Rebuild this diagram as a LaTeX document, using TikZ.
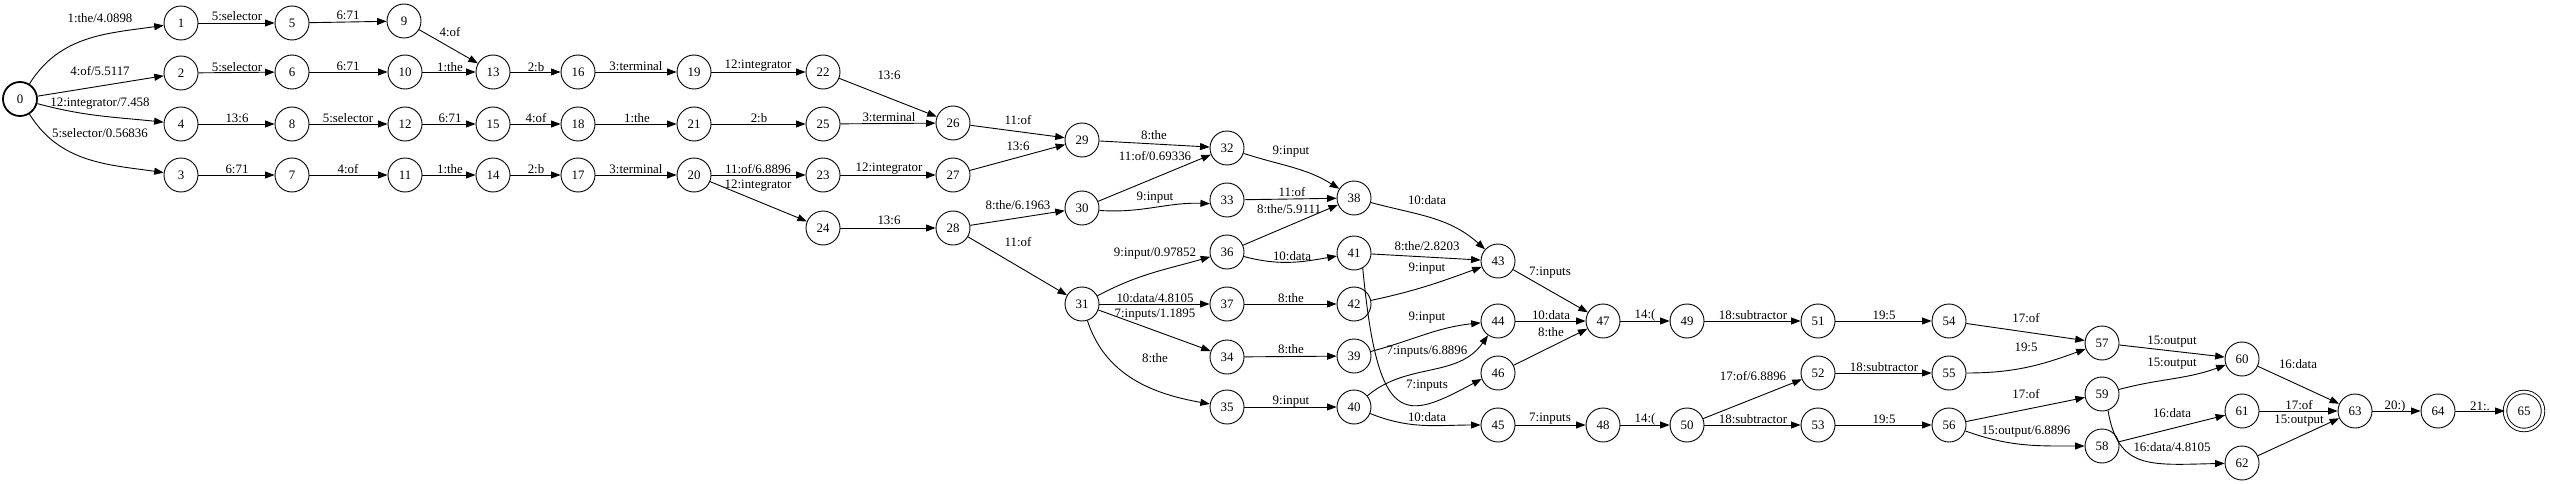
\documentclass[tikz,border=0pt]{standalone}
\usepackage{fontspec}
\setmainfont{Liberation Serif}
\usetikzlibrary{arrows.meta}

\begin{document}
\begin{tikzpicture}[x=1pt,y=-1pt,line width=0.9pt,>={Triangle[length=9.5pt,width=7pt]},
    fst/.style={draw,circle,minimum size=34pt,inner sep=0pt,font=\fontsize{12.9}{14}\selectfont},
    fststart/.style={fst,line width=1.8pt},
    fstfinal/.style={fst,double,double distance=2.6pt,minimum size=38pt},
    lbl/.style={inner sep=0pt,font=\fontsize{12.9}{14}\selectfont}]
        \useasboundingbox (0,0) rectangle (2550,484);
        \node[fststart] (s0) at (20,99) {0};
        \node[fst] (s1) at (181,23) {1};
        \node[fst] (s2) at (181,73) {2};
        \node[fst] (s4) at (181,124) {4};
        \node[fst] (s3) at (181,175) {3};
        \node[fst] (s5) at (292,23) {5};
        \node[fst] (s6) at (292,72) {6};
        \node[fst] (s8) at (292,124) {8};
        \node[fst] (s7) at (292,175) {7};
        \node[fst] (s9) at (404,21) {9};
        \node[fst] (s10) at (405,72) {10};
        \node[fst] (s12) at (405,124) {12};
        \node[fst] (s11) at (405,175) {11};
        \node[fst] (s13) at (493,72) {13};
        \node[fst] (s15) at (493,124) {15};
        \node[fst] (s14) at (493,175) {14};
        \node[fst] (s16) at (578,72) {16};
        \node[fst] (s18) at (578,124) {18};
        \node[fst] (s17) at (578,175) {17};
        \node[fst] (s19) at (694,72) {19};
        \node[fst] (s21) at (694,124) {21};
        \node[fst] (s20) at (694,175) {20};
        \node[fst] (s22) at (823,72) {22};
        \node[fst] (s25) at (823,124) {25};
        \node[fst] (s23) at (823,175) {23};
        \node[fst] (s24) at (823,228) {24};
        \node[fst] (s26) at (953,123) {26};
        \node[fst] (s27) at (953,175) {27};
        \node[fst] (s28) at (953,228) {28};
        \node[fst] (s29) at (1082,140) {29};
        \node[fst] (s30) at (1082,208) {30};
        \node[fst] (s31) at (1082,304) {31};
        \node[fst] (s32) at (1227,148) {32};
        \node[fst] (s33) at (1227,200) {33};
        \node[fst] (s36) at (1227,252) {36};
        \node[fst] (s37) at (1227,304) {37};
        \node[fst] (s34) at (1227,357) {34};
        \node[fst] (s35) at (1227,407) {35};
        \node[fst] (s38) at (1354,198) {38};
        \node[fst] (s41) at (1354,253) {41};
        \node[fst] (s42) at (1354,304) {42};
        \node[fst] (s39) at (1354,356) {39};
        \node[fst] (s40) at (1354,407) {40};
        \node[fst] (s43) at (1498,261) {43};
        \node[fst] (s44) at (1498,321) {44};
        \node[fst] (s46) at (1498,373) {46};
        \node[fst] (s45) at (1498,425) {45};
        \node[fst] (s47) at (1603,321) {47};
        \node[fst] (s48) at (1603,425) {48};
        \node[fst] (s49) at (1687,321) {49};
        \node[fst] (s50) at (1687,425) {50};
        \node[fst] (s51) at (1818,321) {51};
        \node[fst] (s52) at (1818,373) {52};
        \node[fst] (s53) at (1818,425) {53};
        \node[fst] (s54) at (1949,321) {54};
        \node[fst] (s55) at (1949,373) {55};
        \node[fst] (s56) at (1949,425) {56};
        \node[fst] (s57) at (2102,343) {57};
        \node[fst] (s59) at (2102,394) {59};
        \node[fst] (s58) at (2102,446) {58};
        \node[fst] (s60) at (2242,359) {60};
        \node[fst] (s61) at (2242,411) {61};
        \node[fst] (s62) at (2242,463) {62};
        \node[fst] (s63) at (2355,411) {63};
        \node[fst] (s64) at (2438,411) {64};
        \node[fstfinal] (s65) at (2524,411) {65};

        \draw[->] (s0) to[out=58,in=188] (s1) node[lbl] at (100,18) {1:the/4.0898};
        \draw[->] (s0) -- (s2) node[lbl] at (100,71) {4:of/5.5117};
        \draw[->] (s0) to[out=-15,in=174] (s4) node[lbl] at (100,104) {12:integrator/7.458};
        \draw[->] (s0) to[out=-58,in=172] (s3) node[lbl] at (100,133) {5:selector/0.56836};
        \draw[->] (s1) -- (s5) node[lbl] at (237,16) {5:selector};
        \draw[->] (s5) -- (s9) node[lbl] at (348,15) {6:71};
        \draw[->] (s2) -- (s6) node[lbl] at (237,67) {5:selector};
        \draw[->] (s6) -- (s10) node[lbl] at (348,66) {6:71};
        \draw[->] (s4) -- (s8) node[lbl] at (237,118) {13:6};
        \draw[->] (s8) -- (s12) node[lbl] at (348,118) {5:selector};
        \draw[->] (s3) -- (s7) node[lbl] at (237,169) {6:71};
        \draw[->] (s7) -- (s11) node[lbl] at (348,169) {4:of};
        \draw[->] (s9) -- (s13) node[lbl] at (450,32) {4:of};
        \draw[->] (s10) -- (s13) node[lbl] at (450,67) {1:the};
        \draw[->] (s12) -- (s15) node[lbl] at (450,118) {6:71};
        \draw[->] (s11) -- (s14) node[lbl] at (450,169) {1:the};
        \draw[->] (s13) -- (s16) node[lbl] at (536,67) {2:b};
        \draw[->] (s16) -- (s19) node[lbl] at (636,66) {3:terminal};
        \draw[->] (s19) -- (s22) node[lbl] at (758,66) {12:integrator};
        \draw[->] (s15) -- (s18) node[lbl] at (536,118) {4:of};
        \draw[->] (s18) -- (s21) node[lbl] at (637,118) {1:the};
        \draw[->] (s21) -- (s25) node[lbl] at (759,118) {2:b};
        \draw[->] (s14) -- (s17) node[lbl] at (536,169) {2:b};
        \draw[->] (s17) -- (s20) node[lbl] at (636,169) {3:terminal};
        \draw[->] (s20) -- (s23) node[lbl] at (758,169) {11:of/6.8896};
        \draw[->] (s20) -- (s24) node[lbl] at (758,186) {12:integrator};
        \draw[->] (s22) -- (s26) node[lbl] at (889,75) {13:6};
        \draw[->] (s25) -- (s26) node[lbl] at (889,117) {3:terminal};
        \draw[->] (s23) -- (s27) node[lbl] at (889,169) {12:integrator};
        \draw[->] (s24) -- (s28) node[lbl] at (889,220) {13:6};
        \draw[->] (s26) -- (s29) node[lbl] at (1018,120) {11:of};
        \draw[->] (s27) -- (s29) node[lbl] at (1018,146) {13:6};
        \draw[->] (s28) -- (s30) node[lbl] at (1018,205) {8:the/6.1963};
        \draw[->] (s28) -- (s31) node[lbl] at (1018,242) {11:of};
        \draw[->] (s29) -- (s32) node[lbl] at (1154,135) {8:the};
        \draw[->] (s30) -- (s32) node[lbl] at (1155,156) {11:of/0.69336};
        \draw[->] (s30.-8) to[out=-4,in=178] (s33.192) node[lbl] at (1155,198) {9:input};
        \draw[->] (s31) to[out=28,in=196] (s36) node[lbl] at (1155,254) {9:input/0.97852};
        \draw[->] (s31) -- (s37) node[lbl] at (1155,298) {10:data/4.8105};
        \draw[->] (s31) -- (s34) node[lbl] at (1155,315) {7:inputs/1.1895};
        \draw[->] (s31) to[out=-72,in=170] (s35) node[lbl] at (1155,358) {8:the};
        \draw[->] (s32) to[out=-18,in=148] (s38) node[lbl] at (1291,152) {9:input};
        \draw[->] (s33) -- (s38) node[lbl] at (1292,192) {11:of};
        \draw[->] (s36) -- (s38) node[lbl] at (1289,209) {8:the/5.9111};
        \draw[->] (s36) to[out=-15,in=190] (s41) node[lbl] at (1292,256) {10:data};
        \draw[->] (s37) -- (s42) node[lbl] at (1291,298) {8:the};
        \draw[->] (s34) -- (s39) node[lbl] at (1291,349) {8:the};
        \draw[->] (s35) -- (s40) node[lbl] at (1291,402) {9:input};
        \draw[->] (s38) to[out=-15,in=138] (s43) node[lbl] at (1427,200) {10:data};
        \draw[->] (s41) -- (s43) node[lbl] at (1427,246) {8:the/2.8203};
        \draw[->] (s42) to[out=12,in=200] (s43) node[lbl] at (1427,269) {9:input};
        \draw[->] (s41.300) .. controls (1378,430) and (1405,420) .. (s46.200) node[lbl] at (1427,386) {7:inputs};
        \draw[->] (s39) to[out=15,in=186] (s44) node[lbl] at (1427,318) {9:input};
        \draw[->] (s40) to[out=40,in=235] (s44) node[lbl] at (1427,352) {7:inputs/6.8896};
        \draw[->] (s40) to[out=-22,in=180] (s45) node[lbl] at (1427,417) {10:data};
        \draw[->] (s43) -- (s47) node[lbl] at (1550,273) {7:inputs};
        \draw[->] (s44) -- (s47) node[lbl] at (1551,315) {10:data};
        \draw[->] (s46) -- (s47) node[lbl] at (1551,332) {8:the};
        \draw[->] (s45) -- (s48) node[lbl] at (1550,419) {7:inputs};
        \draw[->] (s47) -- (s49) node[lbl] at (1645,315) {14:(};
        \draw[->] (s48) -- (s50) node[lbl] at (1645,419) {14:(};
        \draw[->] (s49) -- (s51) node[lbl] at (1753,315) {18:subtractor};
        \draw[->] (s51) -- (s54) node[lbl] at (1884,315) {19:5};
        \draw[->] (s50) -- (s52) node[lbl] at (1753,376) {17:of/6.8896};
        \draw[->] (s52) -- (s55) node[lbl] at (1884,367) {18:subtractor};
        \draw[->] (s50) -- (s53) node[lbl] at (1753,419) {18:subtractor};
        \draw[->] (s53) -- (s56) node[lbl] at (1884,419) {19:5};
        \draw[->] (s54) -- (s57) node[lbl] at (2026,318) {17:of};
        \draw[->] (s55) to[out=0,in=200] (s57) node[lbl] at (2026,347) {19:5};
        \draw[->] (s56) -- (s59) node[lbl] at (2026,394) {17:of};
        \draw[->] (s56) to[out=-20,in=180] (s58) node[lbl] at (2026,432) {15:output/6.8896};
        \draw[->] (s57) -- (s60) node[lbl] at (2172,342) {15:output};
        \draw[->] (s59) to[out=15,in=200] (s60) node[lbl] at (2172,364) {15:output};
        \draw[->] (s58) -- (s61) node[lbl] at (2172,413) {16:data};
        \draw[->] (s59.290) .. controls (2118,470) and (2150,465) .. (s62) node[lbl] at (2172,447) {16:data/4.8105};
        \draw[->] (s60) -- (s63) node[lbl] at (2298,364) {16:data};
        \draw[->] (s61) -- (s63) node[lbl] at (2299,405) {17:of};
        \draw[->] (s62) -- (s63) node[lbl] at (2299,421) {15:output};
        \draw[->] (s63) -- (s64) node[lbl] at (2395,406) {20:)};
        \draw[->] (s64) -- (s65) node[lbl] at (2480,406) {21:.};
    \end{tikzpicture}
\end{document}
